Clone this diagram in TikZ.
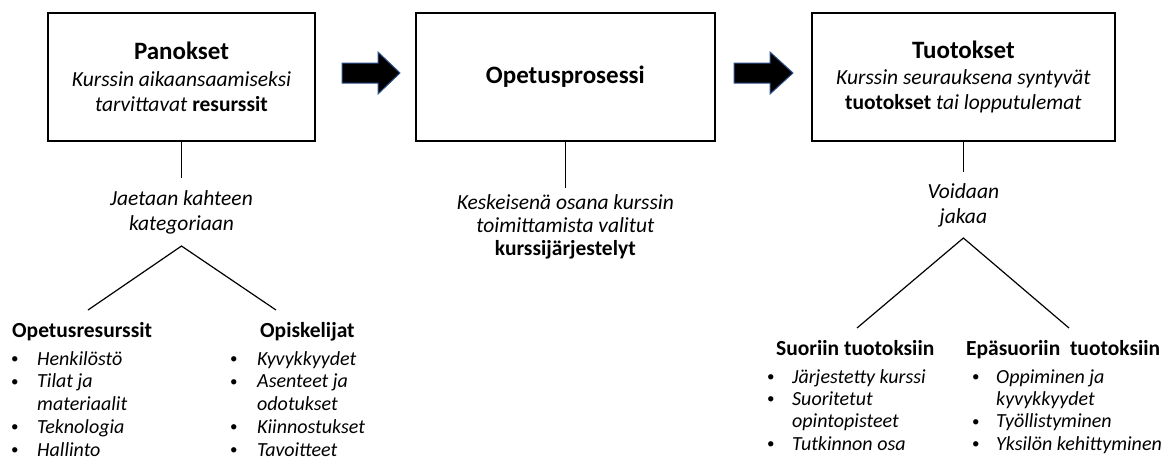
\documentclass[tikz,border=0pt]{standalone}
\usepackage{fontspec}
\setmainfont{Carlito}
\definecolor{arrowedge}{RGB}{47,82,143}
\newcommand{\stagetitle}[1]{{\fontsize{25}{25.5}\selectfont\bfseries #1}}
\newcommand{\bul}{\makebox[14pt][l]{\raisebox{1.5pt}{\upshape\fontsize{15}{15}\selectfont\textbullet}}}
\begin{document}
\begin{tikzpicture}[x=1pt,y=-1pt,
  stage/.style={draw, line width=1.6pt, minimum width=#1, minimum height=128pt,
    align=center, inner sep=0pt, font=\fontsize{21.5}{25}\selectfont},
  lbl/.style={align=center, inner xsep=0pt, inner ysep=12pt, anchor=north,
    font=\fontsize{21.5}{25}\selectfont\itshape},
  head/.style={anchor=base west, inner sep=0pt, font=\fontsize{21.5}{25}\selectfont\bfseries},
  items/.style={anchor=base west, inner sep=0pt, font=\fontsize{20}{22.8}\selectfont\itshape},
  link/.style={line width=1.2pt},
  blockarrow/.style={fill=black, draw=arrowedge, line width=1pt, line join=miter}
]
\useasboundingbox (0,0) rectangle (1168,459);

% --- three stages ---
\node[stage=267pt] (inputs) at (181.5,77)
  {\stagetitle{Panokset}\\[1.5pt] \textit{Kurssin aikaansaamiseksi}\\ \textit{tarvittavat} \textbf{resurssit}};
\node[stage=299pt] (process) at (565.4,77) {\stagetitle{Opetusprosessi}};
\node[stage=303pt] (outputs) at (963.4,77)
  {\stagetitle{Tuotokset}\\[1.5pt] \textit{Kurssin seurauksena syntyvät}\\ \textbf{tuotokset} \textit{tai lopputulemat}};

% --- block arrows between stages ---
\draw[blockarrow] (342,63) -- (378,63) -- (378,52) -- (400,73) -- (378,94) -- (378,83) -- (342,83) -- cycle;
\draw[blockarrow] (734,63) -- (770,63) -- (770,52) -- (793,73) -- (770,94) -- (770,83) -- (734,83) -- cycle;

% --- inputs branch ---
\node[lbl] (inlbl) at (181.5,178) {Jaetaan kahteen\\kategoriaan};
\draw[link] (inputs.south) -- (inlbl.north);
\coordinate (inL) at (88,310);
\coordinate (inR) at (276,310);
\draw[link] (inL) -- (inlbl.south) -- (inR);

\node[head] (res) at (12,337) {Opetusresurssit};
\node[head] (stu) at (260,337) {Opiskelijat};
\node[items] (resl) at (11,365) {\begin{tabular}[t]{@{}l@{\hspace{12pt}}l@{}}
  \bul & Henkilöstö\\
  \bul & Tilat ja\\
       & materiaalit\\
  \bul & Teknologia\\
  \bul & Hallinto
\end{tabular}};
\node[items] (stul) at (230,365) {\begin{tabular}[t]{@{}l@{\hspace{13pt}}l@{}}
  \bul & Kyvykkyydet\\
  \bul & Asenteet ja\\
       & odotukset\\
  \bul & Kiinnostukset\\
  \bul & Tavoitteet
\end{tabular}};

% --- process branch ---
\node[lbl, inner ysep=6pt, font=\fontsize{21.5}{23}\selectfont\itshape] (prlbl) at (565.4,188)
  {Keskeisenä osana kurssin\\toimittamista valitut\\\textbf{\upshape kurssijärjestelyt}};
\draw[link] (process.south) -- (prlbl.north);

% --- outputs branch ---
\node[lbl, inner ysep=11pt] (outlbl) at (963.4,172) {Voidaan\\jakaa};
\draw[link] (outputs.south) -- (outlbl.north);
\coordinate (outL) at (857,328);
\coordinate (outR) at (1069,328);
\draw[link] (outL) -- (outlbl.south) -- (outR);

\node[head] (dir) at (776,355) {Suoriin tuotoksiin};
\node[head] (ind) at (966,355) {Epäsuoriin\ \ tuotoksiin};
\node[items, font=\fontsize{20}{22.4}\selectfont\itshape] (dirl) at (767,383) {\begin{tabular}[t]{@{}l@{\hspace{11pt}}l@{}}
  \bul & Järjestetty kurssi\\
  \bul & Suoritetut\\
       & opintopisteet\\
  \bul & Tutkinnon osa
\end{tabular}};
\node[items, font=\fontsize{20}{22.4}\selectfont\itshape] (indl) at (972,383) {\begin{tabular}[t]{@{}l@{\hspace{10pt}}l@{}}
  \bul & Oppiminen ja\\
       & kyvykkyydet\\
  \bul & Työllistyminen\\
  \bul & Yksilön kehittyminen
\end{tabular}};
\end{tikzpicture}
\end{document}
